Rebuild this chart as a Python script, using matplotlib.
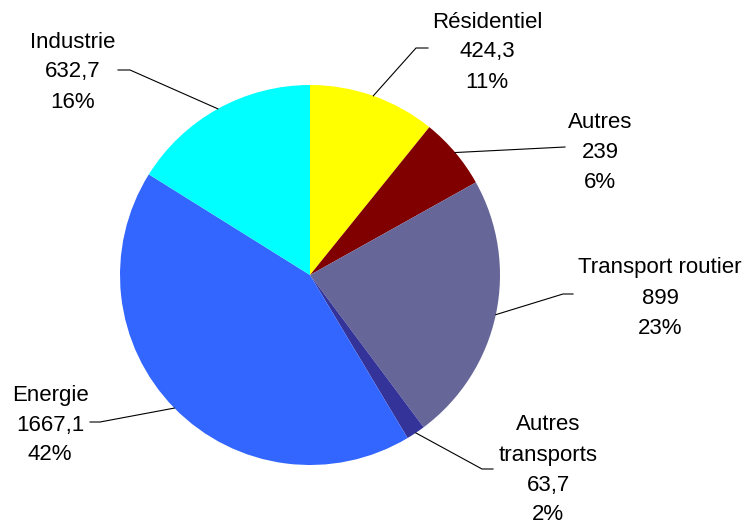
import numpy as np
import matplotlib
matplotlib.use('Agg')
import matplotlib.pyplot as plt

plt.rcParams['font.family'] = ['Liberation Sans', 'DejaVu Sans']

categories = ['Résidentiel', 'Autres', 'Transport routier', 'Autres\ntransports', 'Energie', 'Industrie']
values = [424.3, 239, 899, 63.7, 1667.1, 632.7]
colors = ['#FFFF00', '#800000', '#666699', '#333399', '#3366FF', '#00FFFF']

W, H = 746, 524
cx, cy, r = 310, 275, 190

# label layout (pixel coords, y from top): text centre x, first line y, elbow, line end
label_pos = [
    (487, 22, (416, 48), (428, 48)),
    (600, 122, (565, 147), (565, 147)),
    (660, 268, (563, 294), (573, 294)),
    (548, 425, (482, 469), (493, 469)),
    (50, 395, (100, 422), (90, 422)),
    (73, 42, (130, 70), (118, 70)),
]

def Y(p):
    return H - p

fig = plt.figure(figsize=(W/100, H/100), dpi=100)
ax = fig.add_axes([0, 0, 1, 1])
ax.pie(values, colors=colors, startangle=90, counterclock=False,
       center=(cx, Y(cy)), radius=r, wedgeprops=dict(linewidth=0))
ax.set_xlim(0, W)
ax.set_ylim(0, H)
ax.set_aspect('equal')
ax.axis('off')

total = sum(values)
cum = 0
for name, v, (tx, ty, elbow, end) in zip(categories, values, label_pos):
    mid = (cum + v/2) / total
    cum += v
    ang = np.deg2rad(90 - 360*mid)
    ax_x = cx + r*np.cos(ang)
    ax_y = Y(cy) + r*np.sin(ang)
    ax.plot([ax_x, elbow[0], end[0]], [ax_y, Y(elbow[1]), Y(end[1])],
            color='black', lw=0.8)
    lines = name.split('\n') + [('%g' % v).replace('.', ','), '%d%%' % round(100*v/total)]
    for i, s in enumerate(lines):
        ax.text(tx, Y(ty + 30*i), s, ha='center', va='center', fontsize=16)

plt.savefig('out.png', dpi=100)
